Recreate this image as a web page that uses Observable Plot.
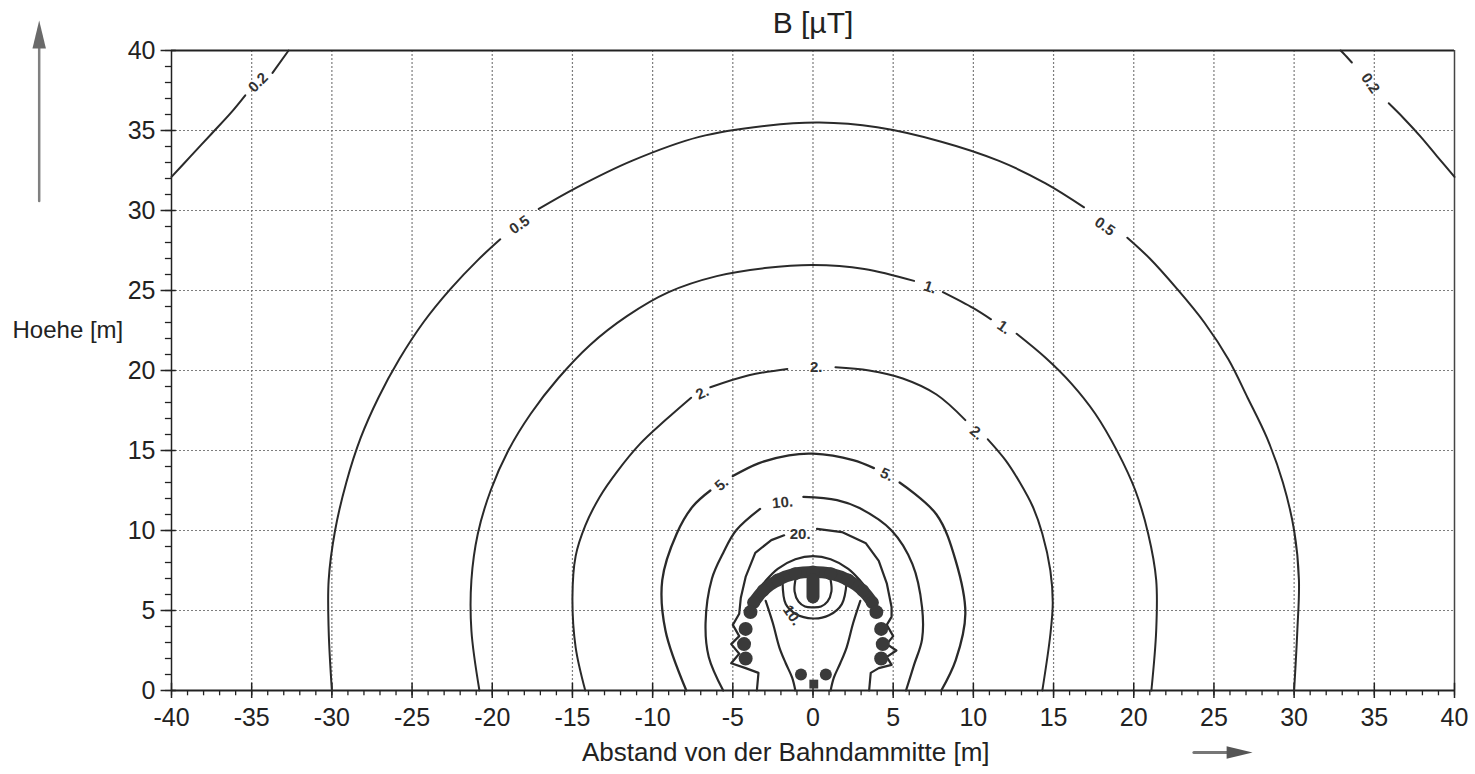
<!DOCTYPE html>
<html><head><meta charset="utf-8">
<script src="https://cdn.jsdelivr.net/npm/d3@7"></script>
<script src="https://cdn.jsdelivr.net/npm/@observablehq/plot@0.6"></script>
<style>
body{margin:0;background:#fff}
#chart svg{font-family:"Liberation Sans",Arial,Helvetica,sans-serif}
</style>
</head><body><div id="chart"></div>
<script>
// ---- axis ticks ----
const xTicks = d3.range(-40, 41, 5);
const yTicks = d3.range(0, 41, 5);
const xMinor = d3.range(-40, 41, 1);
const yMinor = d3.range(0, 41, 1);
const xGrid = d3.range(-35, 36, 5);
const yGrid = d3.range(5, 36, 5);

// ---- contour lines (x, y); null = gap for a label ----
const c02Left = [[-40,32.1],[-38.8,33.4],[-37.5,34.8],[-36.3,36.1],[-35.4,37.2],null,[-33.7,38.6],[-32.7,40]];
const c02Right = [[40,32.1],[38.9,33.4],[37.9,34.6],[36.8,35.8],[35.9,36.7],null,[33.6,39.25],[33.1,39.8],[32.9,40]];
const c05 = [[-30.0,0],[-30.2,3.75],[-30.2,6.9],[-29.8,10],[-29.1,13],[-28.2,15.8],[-27.1,18.3],[-25.8,20.7],[-24.3,23],[-22.6,25.1],[-20.9,26.9],[-19.5,28.2],null,
  [-17.1,30.1],[-14.8,31.4],[-11.3,33.1],[-7.1,34.6],[-2.9,35.3],[0.4,35.5],[4,35.2],[8,34.3],[11.6,33.1],[14.5,31.7],[16.9,30.2],null,
  [19.6,28.3],[21.0,27.0],[22.7,25.1],[24.4,23.0],[25.9,20.7],[27.1,18.3],[28.3,15.8],[29.3,13],[30.0,10],[30.3,6.9],[30.2,3.75],[30.0,0]];
const c1 = [[-20.8,0],[-21.3,3.75],[-21.3,6.9],[-20.9,9.8],[-20.1,12.5],[-19.0,15.0],[-17.6,17.3],[-15.9,19.5],[-13.9,21.6],[-11.6,23.4],[-9.0,24.9],[-6,25.9],[-3,26.4],[0,26.6],[3.2,26.35],[6.3,25.6],null,
  [8.1,24.9],[10.0,23.9],[11.1,23.2],null,[12.7,22.3],[14.5,20.8],[16.1,19.2],[17.6,17.3],[19.0,14.9],[20.1,12.5],[20.9,9.8],[21.4,6.9],[21.4,3.75],[21.1,0]];
const c2 = [[-14.2,0],[-14.8,2.7],[-15.0,5.8],[-14.8,8.4],[-14.2,10.3],[-13.3,12.1],[-12.2,13.7],[-10.8,15.4],[-9.2,16.9],[-7.6,18.3],null,
  [-6.4,18.95],[-4.0,19.7],[-1.6,20.1],null,[1.4,20.2],[3.5,20.0],[5.6,19.5],[7.7,18.5],[9.5,16.9],null,
  [10.9,15.7],[12.0,14.4],[12.9,13.0],[13.7,11.5],[14.3,9.8],[14.8,7.5],[14.95,5.5],[14.8,3.5],[14.3,0]];
const c5 = [[-7.9,0],[-9.2,3.75],[-9.4,6.9],[-8.5,9.8],[-7.5,11.5],[-6.4,12.5],null,
  [-5.0,13.4],[-3.4,14.2],[-1.5,14.7],[0,14.8],[2.5,14.4],[3.8,13.9],null,
  [5.4,13.0],[7.7,11],[8.9,8.1],[9.5,4.8],[8.9,1.9],[8.0,0]];
const c10 = [[-5.6,0],[-6.5,2.1],[-6.7,4.2],[-6.3,7.0],[-5.6,8.6],[-4.8,10],[-3.3,11.35],null,
  [-0.6,12.1],[1.5,11.9],[2.9,11.4],[4.9,10],[6.2,7.9],[6.8,5.2],[6.8,3.2],[6.3,1.6],[5.8,0]];
const c20 = [[-3.5,0],[-3.4,1.1],[-4.2,1.4],[-5.1,1.7],[-4.6,2.3],[-5.1,2.9],[-4.6,3.4],[-5.0,4.1],[-4.6,4.8],[-4.5,5.8],[-4.2,7.1],[-3.6,8.6],[-2.6,9.4],[-1.8,9.7],null,
  [0.25,10.1],[1.8,9.9],[3.3,9.2],[4.1,8.1],[4.6,6.7],[4.9,5.2],[4.9,4.6],[4.6,4.1],[5.0,3.4],[4.6,2.9],[5.2,2.5],[4.6,2.1],[4.9,1.6],[4.1,1.4],[3.6,1.1],[3.5,0]];
const cCap = [[-3.7,5.9],[-3.0,6.8],[-2.2,7.6],[-1.1,8.2],[0,8.4],[1.1,8.2],[2.2,7.6],[3.0,6.8],[3.7,5.9]];
const cBulb = [[-2.95,5.6],[-2.5,4.2],[-2.1,2.7],[-1.7,1.7],[-1.3,0.8],[-1.1,0],null,[1.1,0],[1.3,0.8],[1.7,1.7],[2.1,2.7],[2.5,4.2],[2.95,5.6]];
const cU = [[-1.9,6.8],[-1.7,5.4],[-1.1,4.8],[0,4.5],[1.0,4.7],[1.8,5.4],[2.1,6.8]];
const cEye = [[-1.1,6.9],[-1.15,6.2],[-0.9,5.55],[-0.5,5.25],[0,5.2],[0.5,5.25],[0.9,5.55],[1.15,6.2],[1.1,6.9]];

// ---- conductor markers / dense contour blobs ----
const arcX = [-3.7,-3.1,-2.2,-1.1,0,1.1,2.2,3.1,3.7];
const arcY = [5.5,6.25,6.9,7.3,7.4,7.3,6.9,6.25,5.5];
const sideDotX = [-3.9,-4.2,-4.3,-4.2,3.95,4.25,4.35,4.25];
const sideDotY = [4.9,3.85,2.9,2.0,4.9,3.85,2.9,2.0];
const footX = [-0.75,0.8];
const footY = [1.0,1.0];
const pupilX = [0,0];
const pupilY = [5.85,6.9];

// ---- contour labels ----
const labelText = ["0.2","0.2","0.5","0.5","1.","1.","2.","2.","2.","5.","5.","10.","20.","10."];
const labelX = [-34.6,34.75,-18.3,18.2,7.3,11.9,-6.9,0.2,10.2,-5.7,4.6,-1.9,-0.8,-1.3];
const labelY = [38.0,37.95,29.1,29.0,25.2,22.7,18.6,20.2,16.1,12.9,13.5,11.75,9.8,4.7];
const labelRot = [-45,55,-35,35,18,35,-25,0,40,-40,25,-5,0,55];

// ---- texts ----
const title = "B [µT]";
const xLabel = "Abstand von der Bahndammitte [m]";
const yLabel = "Hoehe [m]";

const pts = a => a.map(p => p ? {x: p[0], y: p[1]} : {x: NaN, y: NaN});
const zip = (xs, ys) => xs.map((x, i) => ({x, y: ys[i]}));

const headSymbol = {
  draw(ctx, size) {
    const s = Math.sqrt(size / Math.PI);
    ctx.moveTo(0, -s);
    ctx.lineTo(s * 0.48, s);
    ctx.lineTo(-s * 0.48, s);
    ctx.closePath();
  }
};

const ink = "#2a2a2a";
const lineOpts = {x: "x", y: "y", stroke: ink, strokeWidth: 2, curve: "catmull-rom"};
const innerOpts = {x: "x", y: "y", stroke: ink, strokeWidth: 2.2, curve: "catmull-rom"};

const chart = Plot.plot({
  width: 1475, height: 774,
  marginLeft: 171, marginRight: 21, marginTop: 50, marginBottom: 84,
  x: {domain: [-40, 40]},
  y: {domain: [0, 40]},
  style: {fontSize: "25px", background: "#fff", color: "#222", overflow: "visible"},
  marks: [
    // grid
    Plot.gridX(xGrid, {stroke: "#6f6f6f", strokeOpacity: 0.9, strokeDasharray: "2,2", strokeWidth: 1.2}),
    Plot.gridY(yGrid, {stroke: "#6f6f6f", strokeOpacity: 0.9, strokeDasharray: "2,2", strokeWidth: 1.2}),
    // frame
    Plot.ruleY([40], {stroke: "#222", strokeWidth: 2}),
    Plot.ruleX([40], {stroke: "#444", strokeWidth: 1.5}),
    Plot.ruleX([-40], {stroke: "#222", strokeWidth: 1.5}),
    Plot.ruleY([0], {stroke: "#222", strokeWidth: 2}),
    // minor & major ticks
    Plot.ruleX(xMinor, {x: d => d, y1: -0.33, y2: 0, stroke: "#222", strokeWidth: 1.3, clip: false}),
    Plot.ruleX(xTicks, {x: d => d, y1: -0.5, y2: 0.45, stroke: "#222", strokeWidth: 1.5, clip: false}),
    Plot.ruleY(yMinor, {y: d => d, x1: -40.38, x2: -40, stroke: "#222", strokeWidth: 1.3, clip: false}),
    Plot.ruleY(yTicks, {y: d => d, x1: -40.65, x2: -39.7, stroke: "#222", strokeWidth: 1.5, clip: false}),
    Plot.axisX(xTicks, {tickSize: 0, tickPadding: 18, tickFormat: d => String(d), label: null, fontSize: 25}),
    Plot.axisY(yTicks, {tickSize: 0, tickPadding: 16, tickFormat: d => String(d), label: null, fontSize: 25}),
    // contours
    Plot.line(pts(c02Left), lineOpts),
    Plot.line(pts(c02Right), lineOpts),
    Plot.line(pts(c05), lineOpts),
    Plot.line(pts(c1), lineOpts),
    Plot.line(pts(c2), lineOpts),
    Plot.line(pts(c5), {...lineOpts, strokeWidth: 2.3}),
    Plot.line(pts(c10), innerOpts),
    Plot.line(pts(c20), {...innerOpts, curve: "linear"}),
    Plot.line(pts(cCap), innerOpts),
    Plot.line(pts(cBulb), innerOpts),
    Plot.line(pts(cU), innerOpts),
    Plot.line(pts(cEye), innerOpts),
    // dense blobs
    Plot.line(zip(arcX, arcY), {x: "x", y: "y", stroke: "#3a3a3a", strokeWidth: 12, strokeLinecap: "round", curve: "catmull-rom"}),
    Plot.dot(zip(arcX, arcY), {x: "x", y: "y", r: 6.5, fill: "#3a3a3a"}),
    Plot.dot(zip(sideDotX, sideDotY), {x: "x", y: "y", r: 7, fill: "#3a3a3a"}),
    Plot.dot(zip(footX, footY), {x: "x", y: "y", r: 6, fill: "#3a3a3a"}),
    Plot.dot([{x: 0.05, y: 0.4}], {x: "x", y: "y", r: 5, symbol: "square", fill: "#3a3a3a"}),
    Plot.line(zip(pupilX, pupilY), {x: "x", y: "y", stroke: "#3a3a3a", strokeWidth: 13, strokeLinecap: "round"}),
    // contour labels
    Plot.text(labelText, {x: (d, i) => labelX[i], y: (d, i) => labelY[i], rotate: (d, i) => labelRot[i], text: d => d,
      fontSize: 15, fontWeight: "bold", fill: "#333"}),
    // titles
    Plot.text([title], {x: 0, y: 40, dy: -27, text: d => d, fontSize: 30, fill: "#222", clip: false}),
    Plot.text([xLabel], {x: -1.7, y: 0, dy: 62, text: d => d, fontSize: 26, fill: "#222", clip: false}),
    Plot.text([yLabel], {x: -40, y: 22.5, dx: -159, textAnchor: "start", text: d => d, fontSize: 24, fill: "#222", clip: false}),
    // arrows
    Plot.line([{x: -48.25, y: 30.6}, {x: -48.25, y: 40.3}], {x: "x", y: "y", stroke: "#808080", strokeWidth: 2.5, clip: false}),
    Plot.dot([{x: -48.25, y: 41}], {x: "x", y: "y", r: 14, symbol: headSymbol, fill: "#6a6a6a", clip: false}),
    Plot.line([{x: 23.75, y: -3.875}, {x: 25.9, y: -3.875}], {x: "x", y: "y", stroke: "#777", strokeWidth: 3, clip: false}),
    Plot.dot([{x: 26.6, y: -3.875}], {x: "x", y: "y", r: 13, symbol: headSymbol, rotate: 90, fill: "#555", clip: false})
  ]
});
document.getElementById("chart").appendChild(chart);
</script>
</body></html>
